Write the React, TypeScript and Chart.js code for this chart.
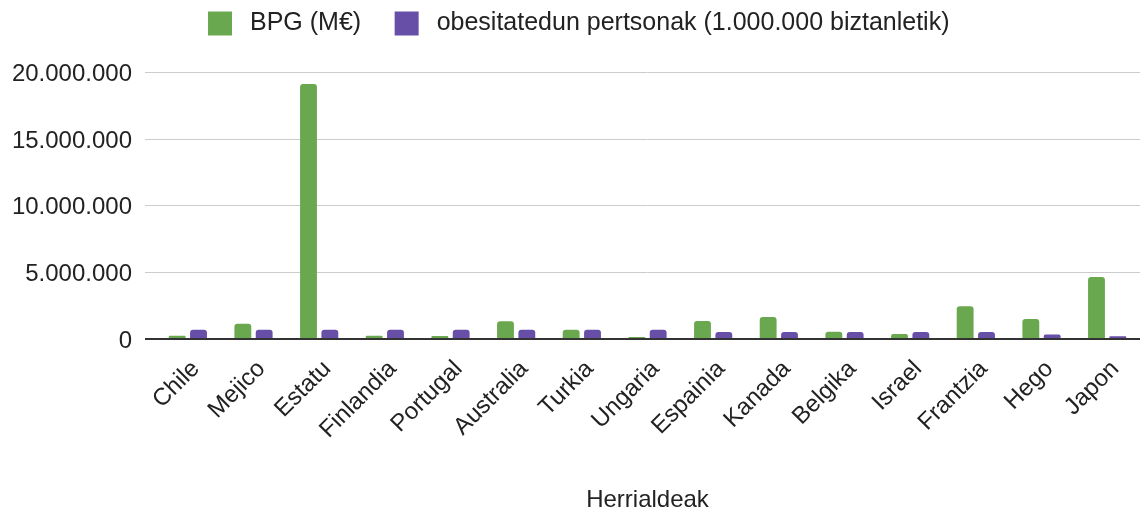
import React, { useEffect, useRef } from 'react';
import { Chart, registerables } from 'chart.js';

Chart.register(...registerables);

const categories = ['Chile', 'Mejico', 'Estatu', 'Finlandia', 'Portugal', 'Australia', 'Turkia', 'Ungaria', 'Espainia', 'Kanada', 'Belgika', 'Israel', 'Frantzia', 'Hego', 'Japon'];
const bpgValues = [250000, 1150000, 19150000, 250000, 220000, 1330000, 700000, 150000, 1350000, 1650000, 550000, 370000, 2450000, 1500000, 4650000];
const obeseValues = [700000, 700000, 700000, 700000, 700000, 700000, 700000, 700000, 530000, 530000, 530000, 530000, 530000, 330000, 200000];
const yTickValues = [0, 5000000, 10000000, 15000000, 20000000];
const seriesNames = ['BPG (M€)', 'obesitatedun pertsonak (1.000.000 biztanletik)'];
const seriesColors = ['#6aa84f', '#674ea7'];
const xAxisTitle = 'Herrialdeak';

const FONT = "'Liberation Sans', Arial, sans-serif";
const TEXT = '#222222';

const fmt = (n: number) => Math.round(n).toString().replace(/\B(?=(\d{3})+(?!\d))/g, '.');

export default function App() {
  const ref = useRef<HTMLCanvasElement | null>(null);

  useEffect(() => {
    if (!ref.current) return;
    Chart.defaults.font.family = FONT;
    const chart = new Chart(ref.current, {
      type: 'bar',
      data: {
        labels: categories,
        datasets: [
          {
            label: seriesNames[0],
            data: bpgValues,
            backgroundColor: seriesColors[0],
            borderRadius: 3,
            categoryPercentage: 0.65,
            barPercentage: 0.79,
          },
          {
            label: seriesNames[1],
            data: obeseValues,
            backgroundColor: seriesColors[1],
            borderRadius: 3,
            categoryPercentage: 0.65,
            barPercentage: 0.79,
          },
        ],
      },
      options: {
        responsive: false,
        animation: false,
        layout: { padding: { left: 12, right: 5, top: -22, bottom: 0 } },
        plugins: {
          legend: {
            display: true,
            position: 'top',
            labels: {
              font: { size: 25, family: FONT },
              color: TEXT,
              boxWidth: 35,
              boxHeight: 35,
              padding: 28,
              generateLabels: (c: any) => {
                const items = Chart.defaults.plugins.legend.labels.generateLabels(c);
                return items.map((it: any) => ({ ...it, lineWidth: 11, strokeStyle: '#ffffff' }));
              },
            },
          },
          subtitle: {
            display: true,
            text: '',
            position: 'top',
            weight: 500,
            font: { size: 10 },
            padding: { top: 0, bottom: 9.6 },
          } as any,
          tooltip: { enabled: false },
        },
        scales: {
          x: {
            grid: { display: false },
            border: { display: false },
            ticks: {
              maxRotation: 45,
              minRotation: 45,
              font: { size: 24, family: FONT },
              color: TEXT,
              padding: 8,
              labelOffset: 8,
            },
            title: {
              display: true,
              text: xAxisTitle,
              font: { size: 24, family: FONT },
              color: TEXT,
              padding: { top: 0, bottom: 1 },
            },
            afterFit: (s: any) => {
              s.height = 177;
            },
          },
          y: {
            min: 0,
            max: 20000000,
            afterBuildTicks: (s: any) => {
              s.ticks = yTickValues.map((v) => ({ value: v }));
            },
            ticks: {
              font: { size: 24, family: FONT },
              color: TEXT,
              padding: 13,
              labelOffset: 2,
              callback: (v: any) => fmt(Number(v)),
            },
            grid: {
              color: (ctx: any) => (ctx.tick && ctx.tick.value === 0 ? '#333333' : '#cccccc'),
              lineWidth: (ctx: any) => (ctx.tick && ctx.tick.value === 0 ? 2 : 1),
              tickColor: (ctx: any) => (ctx.tick && ctx.tick.value === 0 ? '#333333' : '#cccccc'),
              tickLength: 10,
            },
            border: { display: false },
            afterFit: (s: any) => {
              s.width = 143;
            },
          },
        },
      },
    });
    return () => chart.destroy();
  }, []);

  return (
    <canvas
      ref={ref}
      width={1145}
      height={516}
      style={{ position: 'absolute', left: 0, top: 0, width: 1145, height: 516 }}
    />
  );
}
